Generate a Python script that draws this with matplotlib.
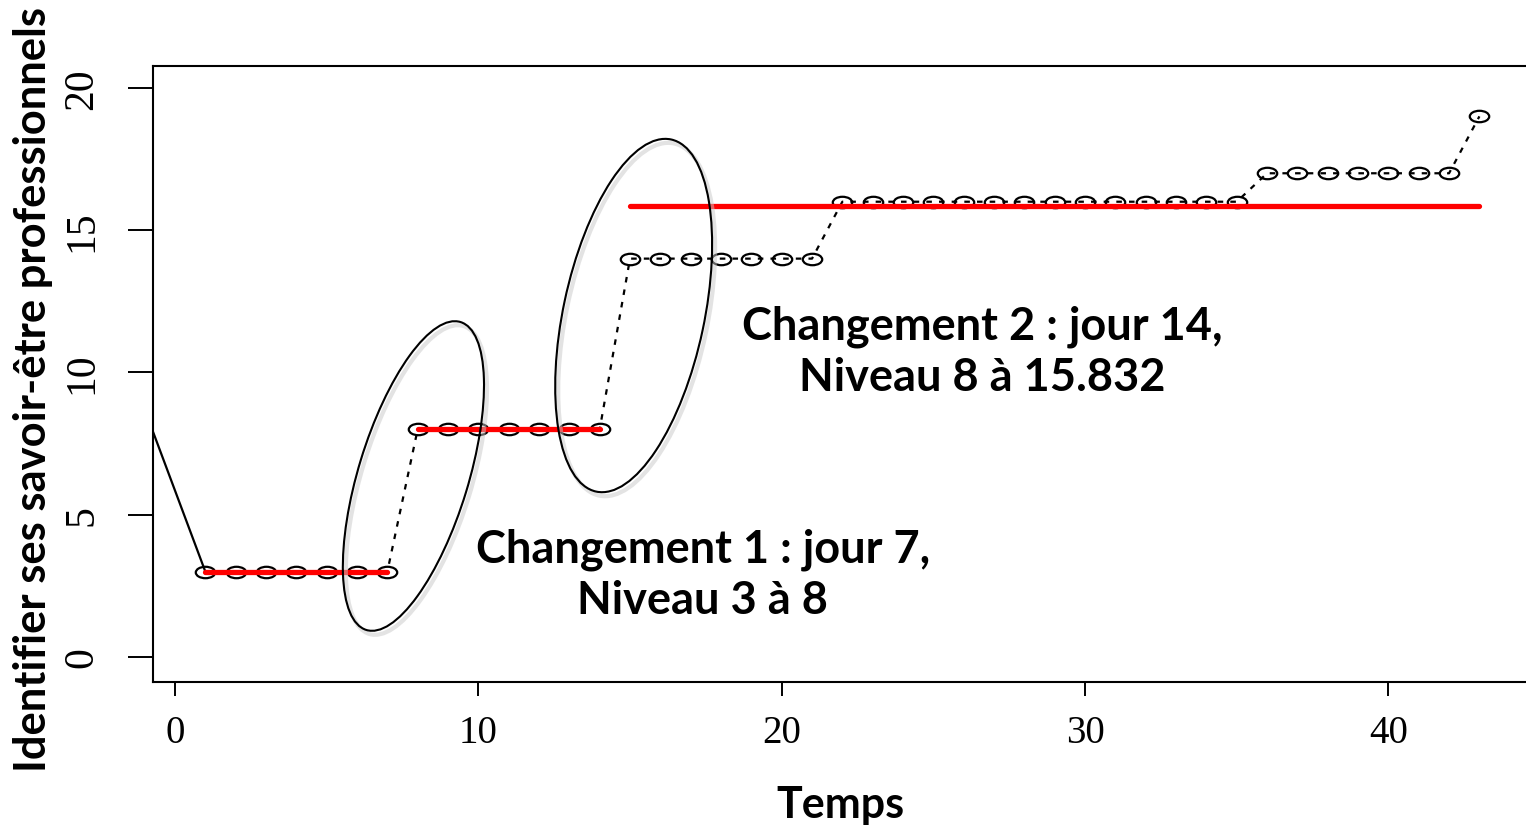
import matplotlib
matplotlib.use("Agg")
import matplotlib.pyplot as plt
import numpy as np
from matplotlib.path import Path
from matplotlib.patches import Ellipse
from matplotlib.transforms import IdentityTransform

# data
days = [1, 2, 3, 4, 5, 6, 7,
        8, 9, 10, 11, 12, 13, 14,
        15, 16, 17, 18, 19, 20, 21,
        22, 23, 24, 25, 26, 27, 28, 29, 30, 31, 32, 33, 34, 35,
        36, 37, 38, 39, 40, 41, 42,
        43]
levels = [3, 3, 3, 3, 3, 3, 3,
          8, 8, 8, 8, 8, 8, 8,
          14, 14, 14, 14, 14, 14, 14,
          16, 16, 16, 16, 16, 16, 16, 16, 16, 16, 16, 16, 16, 16,
          17, 17, 17, 17, 17, 17, 17,
          19]

# solid segment coming in from the left edge
lead_x = [-1, 1]
lead_y = [8.7, 3]

# phase means (red lines)
phase_start = [1, 8, 15]
phase_end = [7, 14, 43]
phase_mean = [3, 8, 15.832]

xticks = [0, 10, 20, 30, 40]
yticks = [0, 5, 10, 15, 20]

notes = ["Changement 1 : jour 7,\nNiveau 3 à 8",
         "Changement 2 : jour 14,\nNiveau 8 à 15.832"]
notes_x = [17.4, 26.6]
notes_y = [2.9, 10.75]

# ellipses circling the changes (center in data, size in pixels)
ring_cx = [7.86, 15.12]
ring_cy = [6.36, 12.0]
ring_w = [322, 360]
ring_h = [110, 141]
ring_ang = [73, 78]

W, H = 1526, 829
fig = plt.figure(figsize=(W / 100, H / 100), dpi=100)
ax = fig.add_axes([153 / W, (829 - 683) / H, (1534 - 153) / W, (683 - 67) / H])

# flattened circle marker, like the stretched R plot
circ = Path.unit_circle()
oval = Path(circ.vertices * np.array([1.7, 1.0]), circ.codes)

ax.plot(lead_x, lead_y, color="black", lw=1.6, solid_capstyle="butt")
ax.plot(days, levels, color="black", lw=1.6, linestyle=(0, (2.5, 3.2)),
        marker=oval, ms=14, mfc="none", mec="black", mew=1.6)

for s, e, m in zip(phase_start, phase_end, phase_mean):
    ax.plot([s, e], [m, m], color="#ff0000", lw=3.8, solid_capstyle="round", zorder=3)

ax.set_xlim(-0.725, 44.8)
ax.set_ylim(-0.88, 20.77)

ax.set_xticks(xticks)
ax.set_yticks(yticks)
ax.set_xticklabels([str(v) for v in xticks], fontfamily="Liberation Serif", fontsize=28)
ax.set_yticklabels([str(v) for v in yticks], fontfamily="Liberation Serif", fontsize=30,
                   rotation=90, va="center")
ax.tick_params(axis="x", length=10, width=1.4, pad=13)
ax.tick_params(axis="y", length=18, width=1.4, pad=19)

for sp in ["left", "bottom", "top"]:
    ax.spines[sp].set_linewidth(1.5)
ax.spines["right"].set_visible(False)

for t, x, y in zip(notes, notes_x, notes_y):
    ax.text(x, y, t, ha="center", va="center", multialignment="center",
            fontfamily="Lato", fontweight="bold", fontsize=32.5, linespacing=1.25)

# rings drawn in pixel space so they keep their shape
fig.canvas.draw()
for cx, cy, w, h, a in zip(ring_cx, ring_cy, ring_w, ring_h, ring_ang):
    px, py = ax.transData.transform((cx, cy))
    shadow = Ellipse((px + 3, py - 4), w, h, angle=a, fill=False, ec="#c8c8c8",
                     lw=3, alpha=0.5, transform=IdentityTransform())
    ring = Ellipse((px, py), w, h, angle=a, fill=False, ec="black",
                   lw=1.5, transform=IdentityTransform())
    fig.add_artist(shadow)
    fig.add_artist(ring)

fig.text(840 / W, 1 - 805 / H, "Temps", ha="center", va="center",
         fontfamily="Lato", fontweight="bold", fontsize=31)
fig.text(33 / W, 1 - 390 / H, "Identifier ses savoir-être professionnels",
         ha="center", va="center", rotation=90,
         fontfamily="Lato", fontweight="bold", fontsize=31.3)

fig.savefig("out.png", dpi=100)
